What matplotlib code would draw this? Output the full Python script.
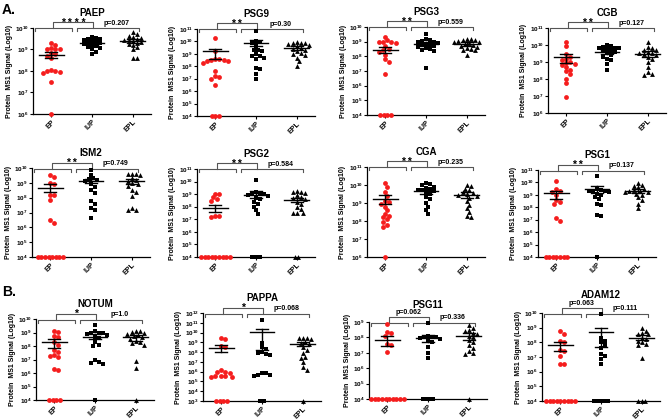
import numpy as np
import matplotlib
matplotlib.use('Agg')
import matplotlib.pyplot as plt
from matplotlib.transforms import blended_transform_factory

plt.rcParams['font.family'] = ['Liberation Sans', 'DejaVu Sans']
plt.rcParams['font.weight'] = 'bold'
plt.rcParams['mathtext.fontset'] = 'custom'
plt.rcParams['mathtext.bf'] = 'Liberation Sans:bold'
plt.rcParams['mathtext.rm'] = 'Liberation Sans:bold'

groups = ['EP', 'IUP', 'EPL']
genes = ['PAEP', 'PSG9', 'PSG3', 'CGB', 'ISM2', 'PSG2', 'CGA', 'PSG1',
         'NOTUM', 'PAPPA', 'PSG11', 'ADAM12']

# values are log10 of MS1 signal (values at the axis floor = not detected)
paep_ep = [9.3, 9.2, 9.05, 9.0, 9.0, 9.0, 8.85, 8.8, 8.7, 8.6, 8.0, 8.0, 8.05, 7.95, 7.9, 7.5, 6.0]
paep_iup = [9.6, 9.55, 9.5, 9.5, 9.45, 9.4, 9.35, 9.3, 9.3, 9.25, 9.2, 9.15, 9.1, 9.05, 9.0, 8.9, 8.8]
paep_epl = [9.8, 9.7, 9.65, 9.6, 9.55, 9.5, 9.45, 9.45, 9.4, 9.35, 9.3, 9.25, 9.2, 9.1, 9.0, 8.6, 8.6]

psg9_ep = [10.3, 9.2, 8.6, 8.55, 8.5, 8.5, 8.45, 8.4, 8.3, 7.65, 7.2, 7.15, 7.0, 6.5, 4, 4, 4]
psg9_iup = [10.85, 10.0, 9.95, 9.9, 9.6, 9.3, 9.3, 9.2, 9.0, 8.8, 8.8, 8.7, 8.6, 7.85, 7.8, 7.4, 6.95]
psg9_epl = [9.95, 9.9, 9.9, 9.85, 9.8, 9.7, 9.6, 9.5, 9.4, 9.3, 9.2, 9.1, 9.0, 8.9, 8.7, 8.4, 8.0]

psg3_ep = [9.35, 9.1, 9.0, 9.0, 8.95, 8.9, 8.7, 8.5, 8.45, 8.3, 8.1, 7.8, 7.6, 6.8, 4, 4, 4, 4]
psg3_iup = [9.55, 9.15, 9.1, 9.05, 9.0, 8.95, 8.9, 8.85, 8.8, 8.75, 8.7, 8.65, 8.55, 8.5, 8.45, 8.35, 7.2]
psg3_epl = [9.15, 9.15, 9.1, 9.1, 9.05, 9.0, 8.95, 8.9, 8.85, 8.8, 8.7, 8.65, 8.6, 8.5, 8.45, 8.4, 8.1]

cgb_ep = [10.2, 9.95, 9.45, 9.3, 9.2, 9.1, 9.0, 8.95, 8.9, 8.85, 8.7, 8.55, 8.45, 8.3, 8.0, 7.75, 6.95]
cgb_iup = [10.0, 9.95, 9.9, 9.85, 9.8, 9.8, 9.75, 9.7, 9.65, 9.6, 9.5, 9.4, 9.3, 9.2, 9.1, 8.9, 8.55]
cgb_epl = [10.15, 9.9, 9.8, 9.7, 9.7, 9.6, 9.55, 9.5, 9.45, 9.4, 9.3, 9.2, 9.0, 8.7, 8.4, 8.3, 8.25]

ism2_ep = [9.5, 9.4, 9.0, 8.9, 8.2, 8.15, 7.85, 6.5, 6.3, 4, 4, 4, 4, 4, 4, 4, 4]
ism2_iup = [9.85, 9.55, 9.3, 9.25, 9.2, 9.1, 8.95, 8.75, 8.5, 8.3, 7.8, 7.6, 7.3, 7.2, 6.6]
ism2_epl = [9.6, 9.6, 9.6, 9.55, 9.3, 9.2, 9.1, 9.0, 8.95, 8.8, 8.5, 8.4, 8.1, 7.3, 7.2, 7.2]

psg2_ep = [9.05, 9.0, 8.75, 8.6, 8.45, 7.3, 7.25, 7.2, 4, 4, 4, 4, 4, 4, 4, 4, 4]
psg2_iup = [10.1, 9.15, 9.1, 9.05, 9.0, 8.95, 8.85, 8.7, 8.6, 8.4, 8.2, 8.0, 7.7, 7.4, 4, 4, 4]
psg2_epl = [9.25, 9.2, 9.2, 9.1, 8.9, 8.8, 8.7, 8.6, 8.4, 8.2, 8.0, 7.8, 7.5, 7.5, 7.5, 4, 4]

cga_ep = [10.1, 9.9, 9.6, 9.4, 9.1, 9.05, 8.95, 8.8, 8.6, 8.4, 8.3, 8.2, 8.1, 7.95, 7.8, 7.65, 6.0]
cga_iup = [10.1, 10.05, 10.0, 9.9, 9.85, 9.75, 9.7, 9.7, 9.65, 9.6, 9.5, 9.35, 9.2, 9.0, 8.8, 8.6, 8.4]
cga_epl = [10.0, 9.95, 9.8, 9.7, 9.6, 9.55, 9.5, 9.45, 9.4, 9.3, 9.1, 8.9, 8.7, 8.5, 8.3, 8.2]

psg1_ep = [10.1, 9.45, 9.35, 9.25, 9.0, 8.6, 8.4, 8.3, 7.15, 6.9, 4, 4, 4, 4, 4, 4, 4]
psg1_iup = [10.5, 9.45, 9.4, 9.35, 9.3, 9.3, 9.2, 9.1, 9.0, 8.8, 8.7, 8.3, 8.2, 7.4, 7.3, 4]
psg1_epl = [9.95, 9.8, 9.75, 9.6, 9.5, 9.4, 9.35, 9.3, 9.25, 9.2, 9.1, 9.0, 8.8, 8.6, 8.3, 7.95]

notum_ep = [9.1, 9.05, 8.75, 8.7, 8.3, 8.1, 7.7, 7.55, 7.3, 7.25, 7.2, 6.3, 6.2, 4, 4, 4, 4]
notum_iup = [9.55, 9.1, 9.0, 9.0, 8.95, 8.9, 8.8, 8.7, 8.6, 8.3, 8.1, 8.0, 6.95, 6.85, 6.7, 6.75, 4]
notum_epl = [9.1, 9.1, 9.05, 9.0, 8.9, 8.8, 8.75, 8.7, 8.5, 8.4, 8.3, 8.2, 8.1, 6.9, 6.35, 4]

pappa_ep = [9.45, 9.3, 8.6, 8.5, 6.15, 6.0, 5.95, 5.9, 5.6, 5.55, 5.55, 5.5, 5.5, 3, 3, 3, 3]
pappa_iup = [11.25, 8.95, 8.5, 8.3, 8.0, 7.9, 7.85, 7.7, 5.9, 5.85, 5.7, 5.65, 5.6, 3, 3]
pappa_epl = [9.4, 9.4, 9.4, 9.3, 9.0, 8.9, 8.8, 8.5, 8.2, 7.9, 7.5, 7.4, 7.0, 6.5, 6.2, 3]

psg11_ep = [8.85, 8.35, 8.3, 8.1, 7.55, 7.5, 7.05, 4, 4, 4, 4, 4, 4, 4, 4, 4, 4]
psg11_iup = [8.95, 8.1, 8.05, 8.0, 8.0, 7.95, 7.9, 7.8, 7.7, 7.4, 7.0, 6.65, 4, 4, 4, 4]
psg11_epl = [8.8, 8.6, 8.45, 8.4, 8.3, 8.2, 8.1, 8.0, 7.8, 7.7, 7.5, 7.3, 7.1, 7.0, 6.95, 4]

adam12_ep = [8.8, 8.6, 8.1, 8.0, 7.45, 7.4, 7.05, 6.55, 6.5, 4, 4, 4, 4, 4, 4, 4, 4, 4]
adam12_iup = [9.9, 8.3, 8.1, 8.0, 7.8, 7.6, 7.2, 7.05, 6.85, 6.55, 4, 4, 4, 4, 4]
adam12_epl = [9.0, 8.8, 8.65, 8.6, 8.55, 8.3, 8.2, 8.1, 8.0, 7.9, 7.8, 6.95, 4, 4, 4]

# mean and SEM limits (log10): (mean, low, high) per group
paep_stats = [(8.76, 8.6, 8.9), (9.29, 9.2, 9.37), (9.41, 9.32, 9.48)]
psg9_stats = [(9.19, 8.57, 9.38), (9.86, 9.6, 10.08), (9.46, 9.3, 9.6)]
psg3_stats = [(8.45, 8.25, 8.64), (8.86, 8.7, 8.98), (8.86, 8.7, 8.98)]
cgb_stats = [(9.29, 8.94, 9.49), (9.59, 9.47, 9.73), (9.47, 9.29, 9.63)]
ism2_stats = [(8.68, 8.41, 8.93), (9.14, 8.98, 9.27), (9.09, 8.93, 9.25)]
psg2_stats = [(7.9, 7.55, 8.16), (8.96, 8.69, 9.22), (8.56, 8.35, 8.69)]
cga_stats = [(9.24, 8.96, 9.43), (9.65, 9.52, 9.74), (9.46, 9.3, 9.61)]
psg1_stats = [(9.13, 8.65, 9.34), (9.45, 9.13, 9.72), (9.34, 9.18, 9.45)]
notum_stats = [(8.27, 7.88, 8.5), (8.69, 8.5, 8.86), (8.64, 8.4, 8.81)]
pappa_stats = [(8.45, 8.0, 8.69), (10.05, 8.18, 10.4), (8.86, 8.59, 9.03)]
psg11_stats = [(7.86, 7.43, 8.07), (7.99, 7.71, 8.18), (8.12, 7.86, 8.29)]
adam12_stats = [(7.84, 7.41, 8.02), (8.7, 7.68, 8.98), (8.3, 8.14, 8.48)]

ep_iup_labels = ['* * * *', '* *', '* *', '* *', '* *', '* *', '* *', '* *', '*', '*', 'p=0.062', 'p=0.063']
iup_epl_labels = ['p=0.207', 'p=0.30', 'p=0.559', 'p=0.127', 'p=0.749', 'p=0.584', 'p=0.235',
                  'p=0.137', 'p=1.0', 'p=0.068', 'p=0.336', 'p=0.111']
y_limits = [(6, 10), (4, 11), (4, 10), (6, 11), (4, 10), (4, 11), (6, 11), (4, 11),
            (4, 10), (3, 12), (4, 9), (4, 10)]

data = [
    (paep_ep, paep_iup, paep_epl, paep_stats),
    (psg9_ep, psg9_iup, psg9_epl, psg9_stats),
    (psg3_ep, psg3_iup, psg3_epl, psg3_stats),
    (cgb_ep, cgb_iup, cgb_epl, cgb_stats),
    (ism2_ep, ism2_iup, ism2_epl, ism2_stats),
    (psg2_ep, psg2_iup, psg2_epl, psg2_stats),
    (cga_ep, cga_iup, cga_epl, cga_stats),
    (psg1_ep, psg1_iup, psg1_epl, psg1_stats),
    (notum_ep, notum_iup, notum_epl, notum_stats),
    (pappa_ep, pappa_iup, pappa_epl, pappa_stats),
    (psg11_ep, psg11_iup, psg11_epl, psg11_stats),
    (adam12_ep, adam12_iup, adam12_epl, adam12_stats),
]

# axes placement in pixels: (left, top, bottom)
W_PX, H_PX = 669, 419
AX_W = 118
placement = [(33, 28, 114), (197, 29, 116), (367, 27, 115), (548, 28, 113),
             (32, 168, 257), (197, 169, 257), (367, 167, 257), (538, 170, 257),
             (36, 319, 400), (203, 313, 401), (369, 322, 399), (542, 313, 401)]

XLIM = (-0.45, 2.45)
RED = '#f51d1d'
markers = ['o', 's', '^']
colors = [RED, 'black', 'black']


def swarm_offsets(vals, floor, y_px_per_unit, x_px_per_unit, d=4.1, d_floor=3.6):
    vals = np.asarray(vals, float)
    offs = np.zeros(len(vals))
    fl = np.where(vals <= floor)[0]
    n = len(fl)
    for j, i in enumerate(fl):
        offs[i] = (j - (n - 1) / 2) * d_floor / x_px_per_unit
    rest = [i for i in np.argsort(-vals, kind='stable') if vals[i] > floor]
    placed = []
    for i in rest:
        y = vals[i] * y_px_per_unit
        k = 0
        while True:
            cands = [0.0] if k == 0 else [k * d * 0.5, -k * d * 0.5]
            ok = None
            for c in cands:
                if all((c - px) ** 2 + (y - py) ** 2 >= d * d for px, py in placed):
                    ok = c
                    break
            if ok is not None:
                placed.append((ok, y))
                offs[i] = ok / x_px_per_unit
                break
            k += 1
    return offs


fig = plt.figure(figsize=(W_PX / 100, H_PX / 100), dpi=100)

for gi, gene in enumerate(genes):
    left, top, bottom = placement[gi]
    axh = bottom - top
    ax = fig.add_axes([left / W_PX, 1 - bottom / H_PX, AX_W / W_PX, axh / H_PX])
    ymin, ymax = y_limits[gi]
    ax.set_ylim(ymin, ymax)
    ax.set_xlim(*XLIM)
    ypx = axh / (ymax - ymin)
    xpx = AX_W / (XLIM[1] - XLIM[0])
    ep, iup, epl, stats = data[gi]
    for k, vals in enumerate([ep, iup, epl]):
        offs = swarm_offsets(vals, ymin, ypx, xpx)
        ax.scatter(k + offs, vals, s=12, marker=markers[k], color=colors[k],
                   linewidths=0, clip_on=False, zorder=3)
        m, lo, hi = stats[k]
        ax.plot([k - 0.3, k + 0.3], [m, m], color='black', lw=1.0, zorder=4, clip_on=False)
        ax.plot([k, k], [lo, hi], color='black', lw=1.0, zorder=4)
        ax.plot([k - 0.15, k + 0.15], [lo, lo], color='black', lw=1.0, zorder=4)
        ax.plot([k - 0.15, k + 0.15], [hi, hi], color='black', lw=1.0, zorder=4)

    ax.spines['top'].set_visible(False)
    ax.spines['right'].set_visible(False)
    ax.spines['left'].set_linewidth(0.9)
    ax.spines['bottom'].set_linewidth(0.9)
    yt = list(range(ymin, ymax + 1))
    ax.set_yticks(yt)
    ax.set_yticklabels([r'$\mathbf{10^{%d}}$' % t for t in yt], fontsize=4.6)
    ax.set_xticks([0, 1, 2])
    ax.set_xticklabels(groups, fontsize=5, rotation=45, ha='right',
                       rotation_mode='anchor', fontweight='bold')
    ax.tick_params(axis='both', length=2, width=0.8, pad=1.2)
    ax.set_ylabel('Protein  MS1 Signal (Log10)', fontsize=5, fontweight='bold', labelpad=1.5)

    def ay(px):
        return 1 + px / axh

    lab = ep_iup_labels[gi]
    is_p = lab.startswith('p=')
    tr = blended_transform_factory(ax.transData, ax.transAxes)
    lk = dict(color='#555555', lw=0.8, transform=tr, clip_on=False)
    h1, h0, h2 = ay(-0.5), ay(-3.5), ay(5.5)
    ax.plot([-0.4, -0.4, 0.5, 0.5], [h0, h1, h1, h0], **lk)
    ax.plot([0.62, 0.62, 2.15, 2.15], [h0, h1, h1, h0], **lk)
    ax.plot([0.05, 0.05, 1.02, 1.02], [h1, h2, h2, h1], **lk)
    if is_p:
        ax.text(0.53, ay(7.8), lab, transform=tr, ha='center', va='baseline', fontsize=5)
        title_y = ay(14.5)
    else:
        ax.text(0.53, ay(2.0), lab, transform=tr, ha='center', va='baseline', fontsize=7.5)
        title_y = ay(12)
    ax.text(1.6, ay(3.2), iup_epl_labels[gi], transform=tr, ha='center', va='baseline', fontsize=5)
    ax.text(0.5, title_y, gene, transform=ax.transAxes, ha='center', va='baseline',
            fontsize=7, fontweight='bold')

fig.text(2 / W_PX, 1 - 14 / H_PX, 'A.', fontsize=10, fontweight='bold')
fig.text(2 / W_PX, 1 - 296 / H_PX, 'B.', fontsize=10, fontweight='bold')

fig.savefig('out.png', dpi=100)
